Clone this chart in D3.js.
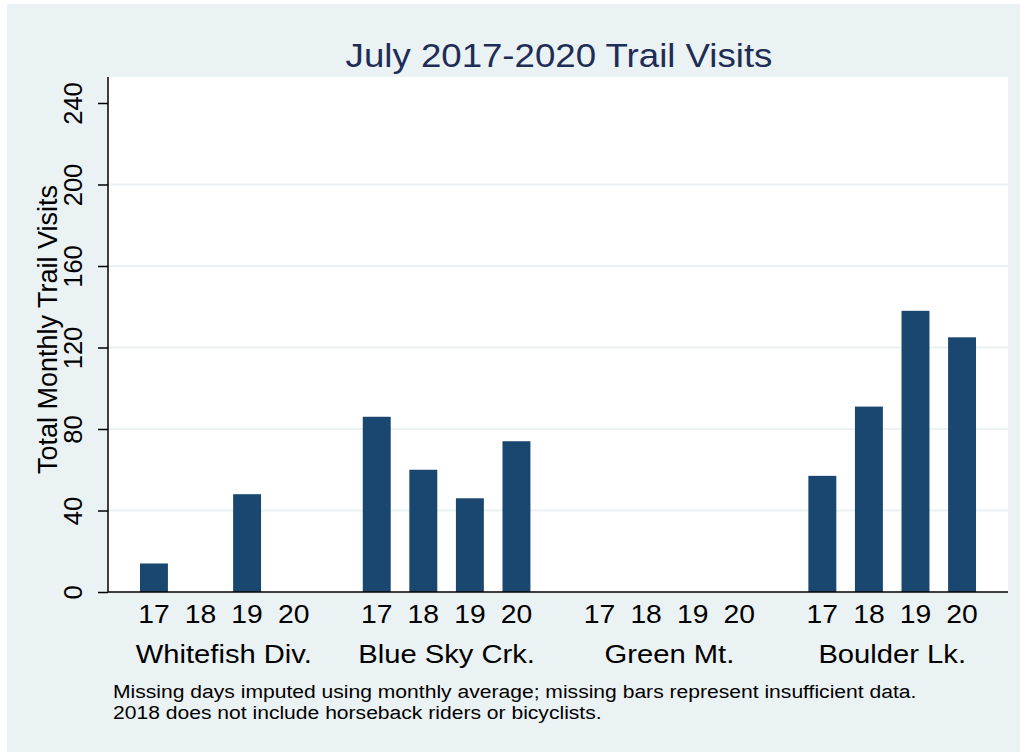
<!DOCTYPE html>
<html>
<head>
<meta charset="utf-8">
<script src="https://cdn.jsdelivr.net/npm/d3@7"></script>
<style>
  html, body { margin: 0; padding: 0; background: #ffffff; }
  svg { display: block; }
  text { font-family: "Liberation Sans", Arial, Helvetica, sans-serif; }
</style>
</head>
<body>
<svg id="chart" width="1022" height="752"></svg>
<script>
// ---- data ----
const sites = ["Whitefish Div.", "Blue Sky Crk.", "Green Mt.", "Boulder Lk."];
const years = ["17", "18", "19", "20"];
const whitefish = [14, null, 48, null];
const blueSky = [86, 60, 46, 74];
const greenMt = [null, null, null, null];
const boulder = [57, 91, 138, 125];
const yTicks = [0, 40, 80, 120, 160, 200, 240];
const titleText = "July 2017-2020 Trail Visits";
const yTitle = "Total Monthly Trail Visits";
const notes = [
  "Missing days imputed using monthly average; missing bars represent insufficient data.",
  "2018 does not include horseback riders or bicyclists."
];

const series = [whitefish, blueSky, greenMt, boulder];
const rows = [];
sites.forEach((s, gi) => years.forEach((y, yi) => rows.push({ site: s, year: y, value: series[gi][yi] })));

// ---- layout ----
const svg = d3.select("#chart");
const plot = { left: 108, right: 1008, top: 77, bottom: 592 };
const SX = 1.11; // horizontal stretch of text in reference

svg.append("rect").attr("x", 7).attr("y", 4).attr("width", 1013).attr("height", 748).attr("fill", "#EAF2F3");
svg.append("rect").attr("x", plot.left).attr("y", plot.top)
  .attr("width", plot.right - plot.left).attr("height", plot.bottom - plot.top).attr("fill", "#ffffff");

const x0 = d3.scaleBand().domain(sites).range([plot.left, plot.right])
  .paddingInner(0.2475).paddingOuter(0.1435);
const x1 = d3.scaleBand().domain(years).range([0, x0.bandwidth()]).paddingInner(0.4).paddingOuter(0);
const y = d3.scaleLinear().domain([0, 240]).range([plot.bottom, 103]);

// gridlines
svg.append("g").selectAll("line").data(yTicks.filter(t => t > 0 && t < 240)).join("line")
  .attr("x1", plot.left).attr("x2", plot.right)
  .attr("y1", d => y(d)).attr("y2", d => y(d))
  .attr("stroke", "#EAF2F3").attr("stroke-width", 2);

// bars
svg.append("g").selectAll("rect").data(rows.filter(d => d.value != null)).join("rect")
  .attr("x", d => x0(d.site) + x1(d.year))
  .attr("width", x1.bandwidth())
  .attr("y", d => y(d.value))
  .attr("height", d => y(0) - y(d.value))
  .attr("fill", "#1A476F");

// y axis
const yAxis = d3.axisLeft(y).tickValues(yTicks).tickSize(10).tickSizeOuter(0).tickFormat(d3.format("d"));
const gy = svg.append("g").attr("transform", `translate(${plot.left},0)`).call(yAxis);
gy.select(".domain").attr("d", `M0,${plot.top}V${plot.bottom}`).attr("stroke", "#000").attr("stroke-width", 1.5);
gy.selectAll(".tick line").attr("stroke", "#000").attr("stroke-width", 1.5);
gy.selectAll(".tick text")
  .attr("x", 0).attr("y", 0).attr("dy", 0)
  .attr("transform", "translate(-26,0) rotate(-90)")
  .attr("text-anchor", "middle")
  .attr("font-size", 25.5).attr("fill", "#000")
  .style("font-family", "'Liberation Sans', Arial, sans-serif");

// x axis line
svg.append("line").attr("x1", plot.left).attr("x2", plot.right)
  .attr("y1", plot.bottom).attr("y2", plot.bottom)
  .attr("stroke", "#000").attr("stroke-width", 1.5);

function stretchedText(x, yPos, txt, size, anchor, color) {
  const g = svg.append("g").attr("transform", `translate(${x},${yPos}) scale(${SX},1)`);
  g.append("text").attr("x", 0).attr("y", 0).attr("text-anchor", anchor)
    .attr("font-size", size).attr("fill", color).text(txt);
  return g;
}

// year tick labels
rows.forEach(d => {
  stretchedText(x0(d.site) + x1(d.year) + x1.bandwidth() / 2, 623, d.year, 25.5, "middle", "#000");
});
// group labels
sites.forEach(s => {
  stretchedText(x0(s) + x0.bandwidth() / 2, 663, s, 26.3, "middle", "#000");
});

// title
stretchedText((plot.left + plot.right) / 2 + 1, 67, titleText, 33, "middle", "#1E2D55");

// y title
svg.append("text")
  .attr("transform", `translate(57,${(plot.top + plot.bottom) / 2 - 5}) rotate(-90)`)
  .attr("text-anchor", "middle").attr("font-size", 27).attr("fill", "#000")
  .text(yTitle);

// notes
notes.forEach((n, i) => {
  stretchedText(113, 698 + i * 21, n, 19, "start", "#000");
});
</script>
</body>
</html>
